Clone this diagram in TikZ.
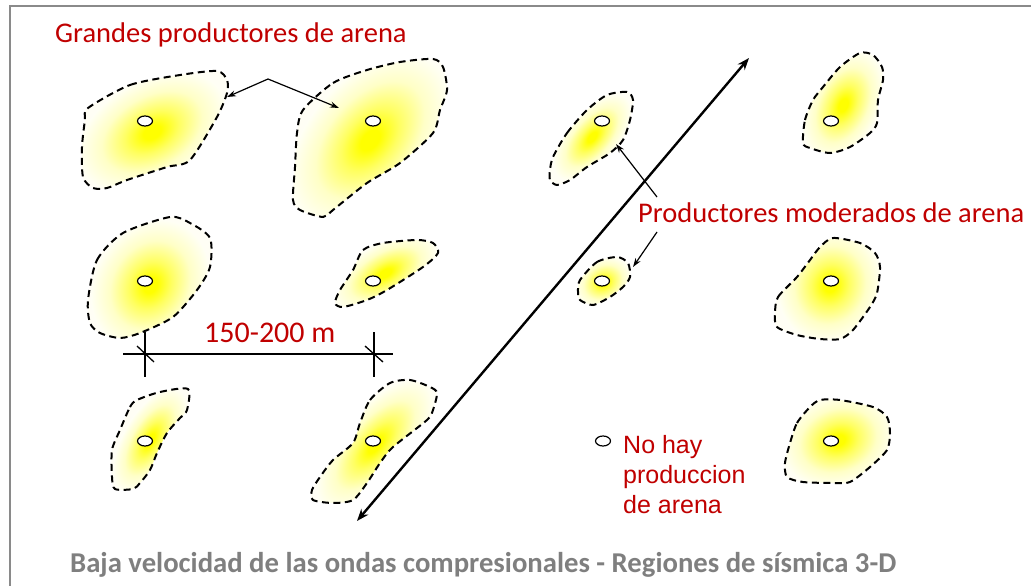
\documentclass[tikz,border=0pt]{standalone}
\usepackage{fontspec}
\setmainfont{Carlito}
\newfontfamily\arialf{Liberation Sans}
\usetikzlibrary{arrows.meta,shapes.geometric}
\definecolor{txtred}{HTML}{C00000}
\definecolor{capgray}{HTML}{7F7F7F}
\definecolor{framegray}{HTML}{8A8A8A}
\definecolor{ycore}{HTML}{FFFF00}
\colorlet{yhigh}{yellow!62!white}
\colorlet{ymid}{yellow!22!white}
\colorlet{yedge}{yellow!4!white}
\pgfdeclareradialshading{blobshade}{\pgfpoint{0bp}{0bp}}{color(0bp)=(ycore); color(3bp)=(ycore); color(9bp)=(yhigh); color(17bp)=(ymid); color(25bp)=(yedge); color(50bp)=(yedge)}
\tikzset{
  blobline/.style={black, line width=2pt, dash pattern=on 7pt off 4.5pt},
  well/.style={ellipse, draw=black, fill=white, line width=1.2pt, minimum width=15pt, minimum height=10pt, inner sep=0pt},
  thinarrow/.style={black, line width=1.2pt, -{Stealth[length=9pt,width=6pt]}},
  bigarrow/.style={black, line width=2.4pt, {Stealth[length=12pt,width=9pt]}-{Stealth[length=12pt,width=9pt]}},
  dimline/.style={black, line width=1.3pt},
  redtxt/.style={txtred, inner sep=0pt, font=\fontsize{28.5}{34}\selectfont},
  numtxt/.style={txtred, inner sep=0pt, font=\fontsize{30}{36}\selectfont},
  legtxt/.style={txtred, inner sep=0pt, font=\arialf\fontsize{25}{30}\selectfont},
  captxt/.style={capgray, inner sep=0pt, font=\bfseries\fontsize{28.7}{34}\selectfont},
}
\newcommand\sandblob[6]{%
  \begin{scope}
    \clip plot[smooth cycle, tension=0.45] coordinates {#1};
    \fill[yedge] (#2-200,#3-200) rectangle (#2+200,#3+200);
    \begin{scope}[transform canvas={shift={(#2,#3)}, rotate=#6}]
      \shade[shading=blobshade] (0,0) ellipse (#4 and #5);
    \end{scope}
  \end{scope}
  \draw[blobline] plot[smooth cycle, tension=0.45] coordinates {#1};
}
\begin{document}
\begin{tikzpicture}[x=1pt, y=-1pt]
\useasboundingbox[fill=white] (0,0) rectangle (1031,586);
\draw[framegray, line width=2pt] (10,600) -- (10,6) -- (1040,6);

% blobs
\sandblob{(88,108) (130,85) (180,75) (217,71) (227,80) (227,93) (217,117) (190,160) (167,167) (127,180) (107,188) (93,188) (83,177) (82,147) (85,120)}{152}{132}{80}{52}{30}
\sandblob{(303,110) (333,83) (367,70) (400,62) (433,59) (443,67) (447,90) (440,110) (433,133) (400,163) (367,183) (333,210) (323,217) (300,210) (293,200) (295,167) (297,133)}{370}{140}{100}{62}{50}
\sandblob{(88,300) (97,260) (123,233) (170,217) (190,223) (210,238) (210,267) (197,290) (173,317) (140,333) (120,338) (100,333) (90,323)}{150}{285}{68}{56}{60}
\sandblob{(353,270) (363,250) (383,243) (417,240) (433,243) (438,253) (423,267) (387,290) (367,300) (343,307) (335,303) (340,290)}{385}{273}{58}{30}{30}
\sandblob{(120,430) (130,407) (137,400) (160,392) (188,389) (187,410) (180,418) (167,433) (157,453) (150,470) (140,483) (133,489) (115,489) (112,477) (112,450)}{150}{440}{58}{27}{60}
\sandblob{(360,423) (370,400) (390,383) (410,380) (430,387) (437,393) (433,410) (427,420) (393,447) (380,463) (367,483) (353,500) (333,503) (313,500) (312,490) (320,477) (333,460) (353,443)}{375}{445}{80}{36}{50}
\sandblob{(553,157) (567,133) (587,110) (607,95) (627,92) (633,100) (630,120) (623,140) (610,153) (587,167) (570,180) (557,185) (550,180) (550,170)}{592}{137}{52}{26}{50}
\sandblob{(580,280) (597,262) (617,257) (628,263) (630,277) (623,287) (610,297) (593,305) (580,300) (578,292)}{603}{282}{30}{24}{30}
\sandblob{(803,143) (805,120) (813,100) (823,87) (840,67) (860,53) (873,55) (882,67) (883,80) (878,100) (877,123) (870,133) (850,147) (830,153) (810,148)}{843}{105}{58}{36}{65}
\sandblob{(775,313) (778,297) (797,277) (810,260) (820,247) (833,238) (860,243) (875,253) (880,267) (877,293) (870,307) (853,330) (840,339) (820,339) (797,335) (777,327)}{830}{285}{58}{52}{70}
\sandblob{(790,443) (797,423) (810,407) (820,400) (840,400) (873,407) (887,417) (890,433) (887,450) (870,467) (850,482) (833,483) (803,482) (787,477) (785,463)}{838}{440}{58}{46}{20}

% wells
\node[well] (w1) at (145,121) {};
\node[well] (w2) at (373,121) {};
\node[well] (w3) at (145,281) {};
\node[well] (w4) at (373,281) {};
\node[well] (w5) at (145,441) {};
\node[well] (w6) at (373,441) {};
\node[well] (w7) at (602,121) {};
\node[well] (w8) at (602,281) {};
\node[well] (w9) at (831,121) {};
\node[well] (w10) at (831,281) {};
\node[well] (w11) at (831,441) {};
\node[well] (wl) at (603,441) {};

% big diagonal arrow
\coordinate (bigA) at (357,521);
\coordinate (bigB) at (749,58);
\draw[bigarrow] (bigA) -- (bigB);

% arrows: grandes productores
\coordinate (ga) at (268,79);
\coordinate (ga1) at (227,97);
\coordinate (ga2) at (339,108);
\draw[thinarrow] (ga) -- (ga1);
\draw[thinarrow] (ga) -- (ga2);

% arrows: productores moderados
\coordinate (ma) at (657,197);
\coordinate (ma1) at (616,144);
\coordinate (mb) at (657,232);
\coordinate (mb1) at (633,267);
\draw[thinarrow] (ma) -- (ma1);
\draw[thinarrow] (mb) -- (mb1);

% dimension line
\coordinate (dL) at (123,354);
\coordinate (dR) at (393,354);
\coordinate (t1a) at (145,332);
\coordinate (t1b) at (145,377);
\coordinate (t2a) at (374,332);
\coordinate (t2b) at (374,377);
\coordinate (s1a) at (137,346);
\coordinate (s1b) at (154,362);
\coordinate (s2a) at (365,346);
\coordinate (s2b) at (383,362);
\draw[dimline] (dL) -- (dR);
\draw[dimline] (t1a) -- (t1b);
\draw[dimline] (t2a) -- (t2b);
\draw[dimline] (s1a) -- (s1b);
\draw[dimline] (s2a) -- (s2b);

% texts
\node[redtxt, anchor=base west] (tg) at (55,43) {Grandes productores de arena};
\node[redtxt, anchor=base west] (tm) at (638,222) {Productores moderados de arena};
\node[numtxt, anchor=base west] (td) at (204,342) {150-200 m};
\node[legtxt, anchor=base west] (l1) at (623,453) {No hay};
\node[legtxt, anchor=base west] (l2) at (623,483) {produccion};
\node[legtxt, anchor=base west] (l3) at (623,513) {de arena};
\node[captxt, anchor=base west] (cap) at (70,572) {Baja velocidad de las ondas compresionales - Regiones de sísmica 3-D};
\end{tikzpicture}
\end{document}
